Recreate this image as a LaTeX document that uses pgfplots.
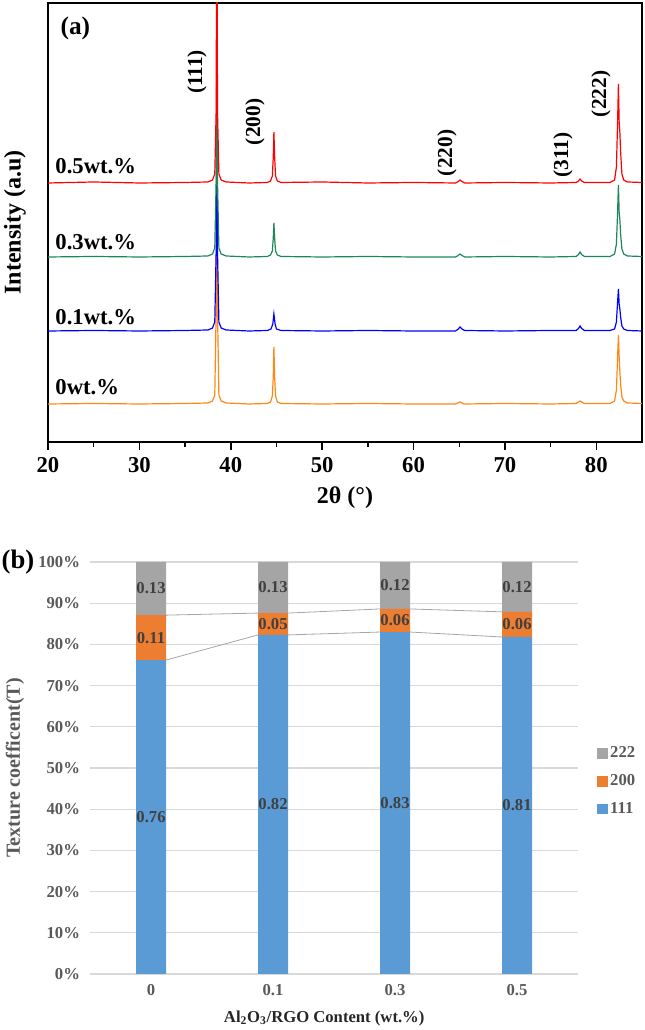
\documentclass[border=0pt]{standalone}
\usepackage{fontspec}
\setmainfont{Liberation Serif}
\usepackage{pgfplots}
\pgfplotsset{compat=1.18}
\definecolor{cred}{RGB}{255,0,0}
\definecolor{cgreen}{RGB}{30,135,90}
\definecolor{cblue}{RGB}{0,0,255}
\definecolor{corange}{RGB}{255,135,20}
\definecolor{c111}{RGB}{91,155,213}
\definecolor{c200}{RGB}{237,125,49}
\definecolor{c222}{RGB}{165,165,165}
\definecolor{gridgray}{RGB}{217,217,217}
\definecolor{labgray}{RGB}{89,89,89}
\definecolor{darklab}{RGB}{64,64,64}
\pgfplotsset{sqlegend/.style={/pgfplots/legend image code/.code={\fill[##1] (0pt,-4pt) rectangle (8pt,4pt);}}}
\newcommand{\fs}[1]{\fontsize{#1}{#1}\selectfont}
\begin{document}
\begin{tikzpicture}
\useasboundingbox (0,0) rectangle (483pt,772.5pt);
% ---------------- (a) XRD ----------------
\begin{axis}[
  at={(36pt,441pt)}, anchor=south west,
  scale only axis, width=445.5pt, height=329.25pt,
  xmin=20, xmax=85, ymin=0, ymax=439,
  xtick={20,30,...,80}, minor x tick num=1,
  ytick=\empty,
  xtick pos=left, tick align=outside,
  major tick length=6pt, minor tick length=3.5pt,
  axis line style={line width=1.1pt},
  every tick/.style={line width=1.1pt, black},
  /pgf/number format/assume math mode=true,
  xticklabel style={font=\bfseries\fs{17}, yshift=-2pt},
  xlabel={2θ (°)},
  xlabel style={at={(axis description cs:0.5,-0.1276)}, anchor=center, font=\bfseries\fs{18}},
  ylabel={Intensity (a.u)},
  ylabel style={at={(axis description cs:-0.0556,0.5)}, anchor=center, font=\bfseries\fs{18}},
  clip=true,
]
\addplot[corange, line width=0.9pt] coordinates {
(20,38) (25,38.5) (30,38) (35,38.5) (37.5,39) (38.0,41) (38.25,47) (38.4,130) (38.47,298) (38.55,130) (38.7,47) (38.95,41) (39.5,39)
(42,38) (44,38.5) (44.35,40) (44.55,46) (44.65,65) (44.72,95) (44.8,65) (44.9,46) (45.1,40) (45.5,38.5)
(50,38) (55,38.5) (60,38) (64.6,38) (64.95,39.5) (65.08,40) (65.2,39.5) (65.5,38)
(70,38.5) (75,38) (77.8,38.5) (78.05,40) (78.22,41) (78.4,40) (78.7,38.5)
(81.5,38.5) (82.0,41) (82.2,52) (82.33,85) (82.42,107) (82.5,85) (82.58,70) (82.66,58) (82.8,45) (83.0,41) (83.4,39) (85,38.5)};
\addplot[cblue, line width=0.9pt] coordinates {
(20,111) (25,111.5) (30,111) (35,111.5) (37.5,112) (38.0,114) (38.25,120) (38.4,190) (38.47,336) (38.55,190) (38.7,120) (38.95,114) (39.5,112)
(42,111) (44,111.5) (44.4,113) (44.6,118) (44.72,128) (44.85,118) (45.0,113) (45.5,111.5)
(50,111) (55,111.5) (60,111) (64.6,111) (64.9,113) (65.08,115) (65.3,113) (65.6,111.5)
(70,111) (75,111.5) (77.8,111.5) (78.05,113.5) (78.22,116) (78.4,113.5) (78.7,111.5)
(81.5,111.5) (82.0,113) (82.2,120) (82.33,140) (82.42,153) (82.5,138) (82.58,133) (82.66,125) (82.8,116) (83.0,113) (83.4,111.5) (85,111)};
\addplot[cgreen, line width=0.9pt] coordinates {
(20,185) (25,185.5) (30,185) (35,185.5) (37.5,186) (38.0,188) (38.25,194) (38.4,260) (38.47,395) (38.55,260) (38.7,194) (38.95,188) (39.5,186)
(42,185) (44,185.5) (44.35,187) (44.55,191) (44.65,204) (44.72,219) (44.8,204) (44.9,191) (45.1,187) (45.5,185.5)
(50,185) (55,185.5) (60,185) (64.6,185) (64.9,186.5) (65.08,188) (65.3,186.5) (65.6,185)
(70,185.5) (75,185) (77.8,185.5) (78.05,187.5) (78.22,190) (78.4,187.5) (78.7,185.5)
(81.5,185.5) (82.0,188) (82.2,198) (82.33,230) (82.42,257) (82.5,230) (82.58,222) (82.66,208) (82.8,193) (83.0,188) (83.4,186) (85,185.5)};
\addplot[cred, line width=0.9pt] coordinates {
(20,259) (25,260) (30,259) (35,259.5) (37.5,260) (38.0,262) (38.25,268) (38.4,330) (38.47,560) (38.55,330) (38.7,268) (38.95,262) (39.5,260)
(42,259) (44,259.5) (44.35,261) (44.55,266) (44.65,285) (44.72,310) (44.8,285) (44.9,266) (45.1,261) (45.5,259.5)
(50,260) (55,259) (60,259.5) (64.6,259) (64.9,260.5) (65.08,262) (65.3,260.5) (65.6,259)
(70,259.5) (75,259) (77.8,259.5) (78.05,261) (78.22,263) (78.4,261) (78.7,259.5)
(81.5,259.5) (82.0,262) (82.2,275) (82.33,320) (82.42,358) (82.5,320) (82.58,309) (82.66,290) (82.8,268) (83.0,262) (83.4,260) (85,259.5)};
\node[font=\bfseries\fs{19}] at (axis cs:23.0,414) {(a)};
\node[font=\bfseries\fs{16}, rotate=90] at (axis cs:36.3,370) {(111)};
\node[font=\bfseries\fs{16}, rotate=90] at (axis cs:42.65,320) {(200)};
\node[font=\bfseries\fs{16}, rotate=90] at (axis cs:63.65,289) {(220)};
\node[font=\bfseries\fs{16}, rotate=90] at (axis cs:76.35,287) {(311)};
\node[font=\bfseries\fs{16}, rotate=90] at (axis cs:80.5,348) {(222)};
\node[font=\bfseries\fs{17}, anchor=west] at (axis cs:20.3,276) {0.5wt.\%};
\node[font=\bfseries\fs{17}, anchor=west] at (axis cs:20.3,200) {0.3wt.\%};
\node[font=\bfseries\fs{17}, anchor=west] at (axis cs:20.3,125) {0.1wt.\%};
\node[font=\bfseries\fs{17}, anchor=west] at (axis cs:20.3,55) {0wt.\%};
\end{axis}
% ---------------- (b) texture coefficient ----------------
\begin{axis}[
  at={(67.5pt,42pt)}, anchor=south west,
  scale only axis, width=366pt, height=309pt,
  ybar stacked, bar width=22.5pt,
  xmin=-0.5, xmax=3.5, ymin=0, ymax=100,
  xtick={0,1,2,3}, xticklabels={0,0.1,0.3,0.5},
  ytick={0,10,...,100},
  /pgf/number format/assume math mode=true,
  yticklabel={\pgfmathprintnumber{\tick}\%},
  ymajorgrids, grid style={draw=gridgray, line width=0.9pt},
  axis line style={draw=none}, major tick length=0pt,
  tick label style={font=\bfseries\fs{12.5}, text=labgray},
  xticklabel style={yshift=-4pt},
  yticklabel style={xshift=-4pt},
  xlabel={Al\textsubscript{2}O\textsubscript{3}/RGO Content (wt.\%)},
  xlabel style={at={(axis description cs:0.48,-0.1068)}, anchor=center, font=\bfseries\fs{12.5}, text=black!85},
  ylabel={Texture coefficent(T)},
  ylabel style={at={(axis description cs:-0.1537,0.5)}, anchor=center, font=\bfseries\fs{15}, text=labgray},
  legend style={at={(rel axis cs:1.03,0.468)}, anchor=west, draw=none, fill=none,
    font=\bfseries\fs{12.5}, text=labgray, row sep=7pt},
  legend cell align=left, reverse legend,
]
\addplot[fill=c111, draw=none, sqlegend] coordinates {(0,76.2) (1,82.3) (2,83.0) (3,81.8)};
\addplot[fill=c200, draw=none, sqlegend] coordinates {(0,10.9) (1,5.3) (2,5.6) (3,6.1)};
\addplot[fill=c222, draw=none, sqlegend] coordinates {(0,12.9) (1,12.4) (2,11.4) (3,12.1)};
\legend{111,200,222}
\end{axis}
\begin{axis}[
  at={(67.5pt,42pt)}, anchor=south west,
  scale only axis, width=366pt, height=309pt,
  xmin=-0.5, xmax=3.5, ymin=0, ymax=100,
  hide axis, clip=false,
]
\addplot[color=black!35, line width=0.6pt, mark=none] coordinates {(0.123,76.2) (0.877,82.3)};
\addplot[color=black!35, line width=0.6pt, mark=none] coordinates {(1.123,82.3) (1.877,83.0)};
\addplot[color=black!35, line width=0.6pt, mark=none] coordinates {(2.123,83.0) (2.877,81.8)};
\addplot[color=black!35, line width=0.6pt, mark=none] coordinates {(0.123,87.1) (0.877,87.6)};
\addplot[color=black!35, line width=0.6pt, mark=none] coordinates {(1.123,87.6) (1.877,88.6)};
\addplot[color=black!35, line width=0.6pt, mark=none] coordinates {(2.123,88.6) (2.877,87.9)};
\addplot[draw=none, mark=none, nodes near coords, point meta=explicit symbolic,
  every node near coord/.append style={anchor=center, font=\bfseries\fs{12.5}, text=darklab}]
  table[meta=lab] {
x y lab
0 38.1 0.76
1 41.2 0.82
2 41.5 0.83
3 40.9 0.81
0 81.65 0.11
1 84.95 0.05
2 85.8 0.06
3 84.85 0.06
0 93.55 0.13
1 93.8 0.13
2 94.3 0.12
3 93.95 0.12
};
\node[font=\bfseries\fs{20}] at (rel axis cs:-0.1475,1.0) {(b)};
\end{axis}
\end{tikzpicture}
\end{document}
